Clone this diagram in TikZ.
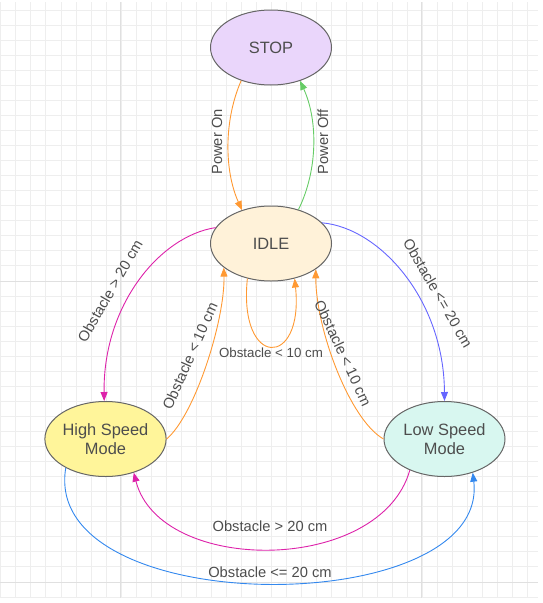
\documentclass[tikz,border=0pt]{standalone}
\usepackage{fontspec}
\setmainfont{Liberation Sans}
\usetikzlibrary{shapes.geometric, arrows.meta}

\definecolor{txtgray}{HTML}{4D4D4D}
\definecolor{nodeborder}{HTML}{666666}
\definecolor{gridminor}{HTML}{EEEEEE}
\definecolor{gridmajor}{HTML}{E0E0E0}
\definecolor{stopfill}{HTML}{EAD6FB}
\definecolor{idlefill}{HTML}{FFF2D9}
\definecolor{highfill}{HTML}{FFF59A}
\definecolor{lowfill}{HTML}{D8F7F0}
\definecolor{orangeedge}{HTML}{FF9933}
\definecolor{greenedge}{HTML}{66CC66}
\definecolor{magentaedge}{HTML}{DD22AA}
\definecolor{violetedge}{HTML}{6666FF}
\definecolor{blueedge}{HTML}{3388EE}

\begin{document}
\begin{tikzpicture}[
        x=1pt, y=-1pt,
        >={Triangle[length=9pt,width=7pt]},
        state/.style={ellipse, draw=nodeborder, line width=1pt, minimum width=121pt, minimum height=75pt,
            inner sep=0pt, align=center, text=txtgray, font=\fontsize{16.4}{19}\selectfont},
        edge/.style={->, line width=0.9pt},
        elabel/.style={text=txtgray, inner sep=0pt, font=\fontsize{14.7}{17}\selectfont}
    ]
        \useasboundingbox (0,0) rectangle (543,603);

        % background grid
        \foreach \i in {0,...,35}
            \draw[gridminor, line width=0.8pt] ({0.7+15.05*\i},2) -- ({0.7+15.05*\i},598);
        \foreach \j in {0,...,39}
            \draw[gridminor, line width=0.8pt] (0,{10+15.05*\j}) -- (538,{10+15.05*\j});
        \draw[gridmajor, line width=1pt] (120.9,2) -- (120.9,598);
        \draw[gridmajor, line width=1pt] (421.9,2) -- (421.9,598);
        \draw[gridmajor, line width=1pt] (0,281) -- (538,281);
        \draw[gridmajor, line width=1pt] (0,582) -- (538,582);

        % states
        \node[state, fill=stopfill] (stop) at (271,47.5) {STOP};
        \node[state, fill=idlefill] (idle) at (271,243.5) {IDLE};
        \node[state, fill=highfill] (high) at (105.5,439) {High Speed\\Mode};
        \node[state, fill=lowfill] (low) at (444.5,439) {Low Speed\\Mode};

        % STOP <-> IDLE
        \draw[edge, orangeedge] (stop.228) .. controls (224,120) and (224,170) .. (idle.131)
            node[elabel, rotate=90] at (217,142) {Power On};
        \draw[edge, greenedge] (idle.51) .. controls (318,170) and (318,120) .. (stop.311)
            node[elabel, rotate=90] at (323,142) {Power Off};

        % IDLE -> speed modes
        \draw[edge, magentaedge] (idle.164) .. controls (160,236) and (103,305) .. (high.92)
            node[elabel, rotate=60] at (110,291) {Obstacle > 20 cm};
        \draw[edge, violetedge] (idle.22) .. controls (380,228) and (444,300) .. (low.90)
            node[elabel, rotate=-60] at (438,293) {Obstacle <= 20 cm};

        % back to IDLE
        \draw[edge, orangeedge] (high.0) .. controls (195,415) and (225,320) .. (idle.207)
            node[elabel, rotate=66] at (190,356) {Obstacle < 10 cm};
        \draw[edge, orangeedge] (low.180) .. controls (350,420) and (316,330) .. (idle.330)
            node[elabel, rotate=-65] at (343,353) {Obstacle < 10 cm};
        \draw[edge, orangeedge] (idle.236) .. controls (238,369) and (304,369) .. (idle.304)
            node[elabel, font=\fontsize{13.3}{15}\selectfont] at (271,353) {Obstacle < 10 cm};

        % between speed modes
        \draw[edge, magentaedge] (low.222) .. controls (380,575) and (160,575) .. (high.310)
            node[elabel] at (270,526) {Obstacle > 20 cm};
        \draw[edge, blueedge] (high.216) .. controls (40,621) and (490,621) .. (low.310)
            node[elabel] at (270,572) {Obstacle <= 20 cm};

    \end{tikzpicture}
\end{document}
